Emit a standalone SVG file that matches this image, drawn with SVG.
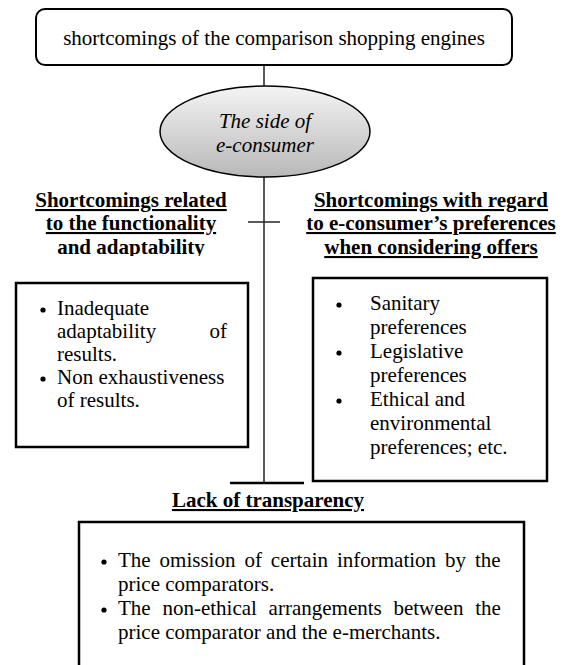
<svg xmlns="http://www.w3.org/2000/svg" width="567" height="665" viewBox="0 0 567 665">
<style>
text{font-family:"Liberation Serif","Times New Roman",serif;font-size:21px;fill:#000}
.b{font-weight:bold}
.u{text-decoration:underline}
.it{font-style:italic}
.box{fill:#fff;stroke:#000;stroke-width:2.5}
.ln{stroke:#222;stroke-width:1.5;fill:none}
</style>
<defs>
<linearGradient id="g" x1="0" y1="0" x2="0" y2="1">
<stop offset="0" stop-color="#f4f4f4"/>
<stop offset="1" stop-color="#b8b8b8"/>
</linearGradient>
<clipPath id="hc"><rect x="0" y="180" width="260" height="76"/></clipPath>
</defs>
<g id="connectors">
<line class="ln" x1="264" y1="65" x2="264" y2="86"/>
<line class="ln" x1="264" y1="177" x2="264" y2="483"/>
<line class="ln" x1="248" y1="222" x2="280" y2="222"/>
<line stroke="#000" stroke-width="2.5" x1="230" y1="483" x2="304" y2="483"/>
</g>
<g id="root">
<rect x="36" y="9" width="476" height="56" rx="9" fill="#fff" stroke="#000" stroke-width="2"/>
<text x="274" y="45" text-anchor="middle">shortcomings of the comparison shopping engines</text>
</g>
<g id="side">
<ellipse cx="265" cy="131.5" rx="105" ry="45.5" fill="url(#g)" stroke="#000" stroke-width="1.5"/>
<text class="it" x="265" y="128" text-anchor="middle">The side of</text>
<text class="it" x="265" y="152" text-anchor="middle">e-consumer</text>
</g>
<g id="functionality">
<g clip-path="url(#hc)">
<text class="b u" x="131" y="207" text-anchor="middle">Shortcomings related</text>
<text class="b u" x="131" y="230" text-anchor="middle">to the functionality</text>
<text class="b" x="131" y="254" text-anchor="middle">and adaptability</text>
</g>
<rect class="box" x="16" y="283" width="232" height="164"/>
<circle cx="43" cy="310" r="2.6"/>
<text x="57" y="315">Inadequate</text>
<text x="57" y="338">adaptability</text>
<text x="227" y="338" text-anchor="end">of</text>
<text x="57" y="361">results.</text>
<circle cx="43" cy="379" r="2.6"/>
<text x="57" y="384">Non exhaustiveness</text>
<text x="57" y="407">of results.</text>
</g>
<g id="preferences">
<text class="b u" x="431" y="207" text-anchor="middle">Shortcomings with regard</text>
<text class="b u" x="431" y="230" text-anchor="middle">to e-consumer’s preferences</text>
<text class="b u" x="431" y="254" text-anchor="middle">when considering offers</text>
<rect class="box" x="313" y="278" width="234" height="203"/>
<circle cx="339" cy="305" r="2.6"/>
<text x="370" y="310">Sanitary</text>
<text x="370" y="334">preferences</text>
<circle cx="339" cy="353" r="2.6"/>
<text x="370" y="358">Legislative</text>
<text x="370" y="382">preferences</text>
<circle cx="339" cy="401" r="2.6"/>
<text x="370" y="406">Ethical and</text>
<text x="370" y="430">environmental</text>
<text x="370" y="454">preferences; etc.</text>
</g>
<g id="transparency">
<text class="b u" x="268" y="507" text-anchor="middle">Lack of transparency</text>
<rect class="box" x="79" y="522" width="445" height="170"/>
<circle cx="104" cy="562" r="2.6"/>
<text x="118" y="567" word-spacing="3.7">The omission of certain information by the</text>
<text x="118" y="591">price comparators.</text>
<circle cx="104" cy="610" r="2.6"/>
<text x="118" y="615" word-spacing="6.5">The non-ethical arrangements between the</text>
<text x="118" y="639">price comparator and the e-merchants.</text>
</g>
</svg>
